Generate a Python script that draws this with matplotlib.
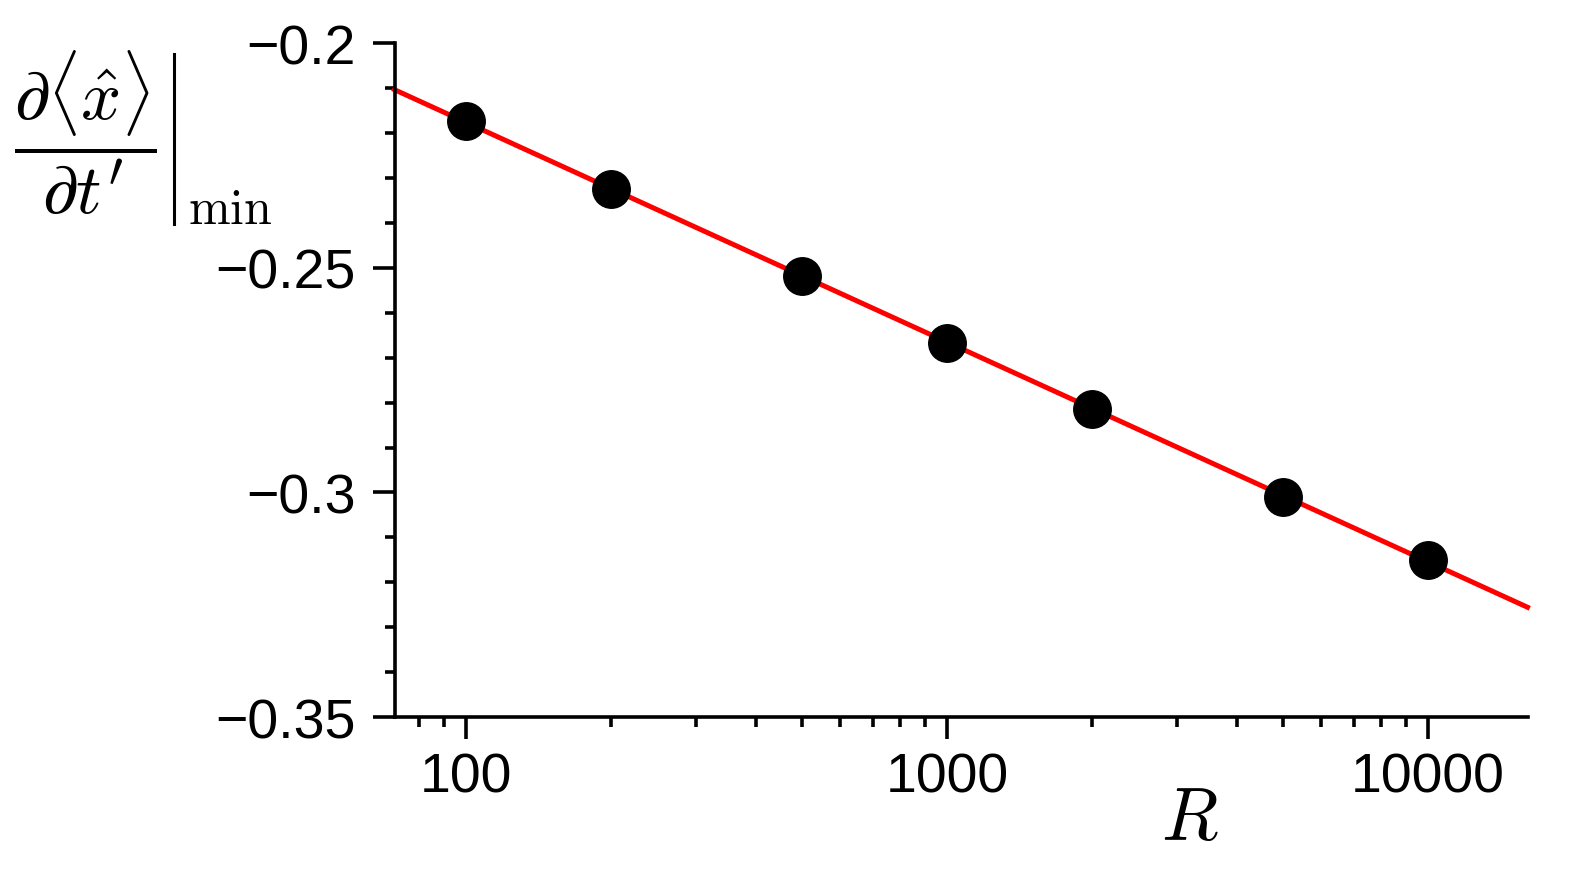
import numpy as np
import matplotlib
matplotlib.use("Agg")
from matplotlib import pyplot as plt
from matplotlib import ticker
from matplotlib.lines import Line2D

plt.rcParams['font.family'] = ['Liberation Sans', 'DejaVu Sans']
plt.rcParams['mathtext.fontset'] = 'cm'

# data
R = [100, 200, 500, 1000, 2000, 5000, 10000]
dxdt_min = [-0.2172, -0.2325, -0.2518, -0.2668, -0.2814, -0.3009, -0.3150]

x_lim = (71, 16100)
y_lim = (-0.35, -0.2)
y_ticks = [-0.35, -0.3, -0.25, -0.2]
x_ticks = [100, 1000, 10000]

# straight-line fit in log R, drawn over the whole axis
coef = np.polyfit(np.log10(R), dxdt_min, 1)
R_fit = np.logspace(np.log10(x_lim[0]), np.log10(x_lim[1]), 50)
fit = np.polyval(coef, np.log10(R_fit))

fig = plt.figure(figsize=(15.78, 8.7), dpi=100)
ax = fig.add_axes([0.25, 0.1747, 0.718, 0.7743])

ax.plot(R_fit, fit, color='red', lw=3.6, zorder=2, clip_on=False)
ax.plot(R, dxdt_min, 'o', color='black', ms=27, zorder=3, clip_on=False)

ax.set_xscale('log')
ax.set_xlim(*x_lim)
ax.set_ylim(*y_lim)

for s in ['top', 'right']:
    ax.spines[s].set_visible(False)
for s in ['left', 'bottom']:
    ax.spines[s].set_linewidth(2.6)

ax.set_yticks(y_ticks)
ax.yaxis.set_minor_locator(ticker.MultipleLocator(0.01))
ax.yaxis.set_major_formatter(ticker.FuncFormatter(lambda v, p: f'{v:g}'.replace('-', '\u2212')))
ax.xaxis.set_major_locator(ticker.FixedLocator(x_ticks))
ax.xaxis.set_minor_locator(ticker.LogLocator(base=10, subs=np.arange(2, 10)))
ax.xaxis.set_major_formatter(ticker.FuncFormatter(lambda v, p: f'{v:.0f}'))
ax.xaxis.set_minor_formatter(ticker.NullFormatter())

ax.tick_params(which='major', direction='out', length=16, width=2.6, labelsize=40, pad=12)
ax.tick_params(which='minor', direction='out', length=7.5, width=2.6)
ax.tick_params(axis='x', which='major', pad=9)

# y label: fraction, evaluation bar and "min" subscript
fig.text(0.0539, 0.847, r'$\dfrac{\partial\langle\hat{x}\rangle}{\partial t^{\prime}}$',
         fontsize=51, ha='center', va='center')
fig.add_artist(Line2D([0.1105, 0.1105], [0.937, 0.741], color='black', lw=2.2,
                      transform=fig.transFigure))
fig.text(0.119, 0.742, r'$\mathrm{min}$', fontsize=36, ha='left', va='baseline')

fig.text(0.754, 0.0575, r'$R$', fontsize=53, ha='center', va='center')

fig.savefig('out.png', dpi=100)
